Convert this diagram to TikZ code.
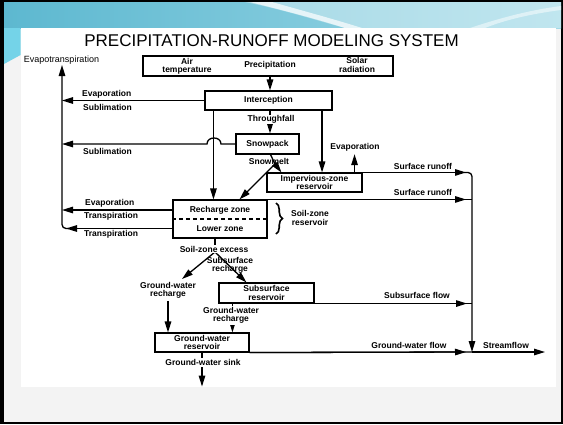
\documentclass[tikz,border=0pt]{standalone}
\usepackage{fontspec}
\setmainfont{Liberation Sans}
\usetikzlibrary{arrows.meta,decorations.pathreplacing,calc}
\newcommand\mylbl{\fontsize{8.5}{8.2}\selectfont\bfseries}
\definecolor{panelgray}{HTML}{F3F3F3}
\definecolor{bannerA}{HTML}{5DB8D0}
\definecolor{bannerB}{HTML}{9FD9E7}
\definecolor{leftcyan}{HTML}{74D3E8}
\begin{document}
\begin{tikzpicture}[x=1pt,y=-1pt,
  box/.style={draw, line width=1.1pt, inner sep=0pt, font=\mylbl, align=center},
  lab/.style={font=\mylbl, inner sep=0pt, align=center},
  ln/.style={line width=1.3pt},
  arr/.style={line width=1.3pt, -{Triangle[length=11pt,width=6.5pt]}},
]
\useasboundingbox (0,0) rectangle (563,424);
% slide background
\fill[black] (0,0) rectangle (563,424);
\fill[panelgray] (4,2) rectangle (561,421.5);
\shade[left color=bannerA, right color=bannerB] (4,2) rectangle (561,28);
\fill[white, opacity=0.35] (245,2) .. controls (285,10) and (315,20) .. (345,28) -- (561,28) -- (561,2) -- cycle;
\fill[white, opacity=0.7] (250,2) .. controls (290,12) and (320,20) .. (345,28) -- (362,28) .. controls (330,18) and (300,10) .. (272,2) -- cycle;
\fill[white, opacity=0.5] (470,28) .. controls (500,18) and (530,10) .. (561,6) -- (561,10) .. controls (530,14) and (505,20) .. (485,28) -- cycle;
\fill[leftcyan] (4,28) -- (20.5,28) -- (20.5,55) -- (4,64) -- cycle;
\fill[white] (20.5,28) rectangle (556,387);

% title
\node[font=\fontsize{17}{20}\selectfont, inner sep=0pt] (title) at (271.5,41) {PRECIPITATION-RUNOFF MODELING SYSTEM};

% boxes
\node[box, minimum width=250pt, minimum height=20pt] (top) at (268,66) {};
\node[lab] (air) at (187,66) {Air\\temperature};
\node[lab] (precip) at (270,65.5) {Precipitation};
\node[lab] (solar) at (357,65) {Solar\\radiation};

\node[box, minimum width=127pt, minimum height=19pt] (inter) at (268.5,100.5) {Interception};
\node[box, minimum width=63pt, minimum height=20pt] (snow) at (267.5,144) {Snowpack};
\node[box, minimum width=95pt, minimum height=19pt] (imp) at (314.5,182.5) {Impervious-zone\\reservoir};
\node[box, minimum width=94pt, minimum height=38pt] (soil) at (220,219) {};
\node[lab] (rech) at (220,210) {Recharge zone};
\node[lab] (lowz) at (220,228.5) {Lower zone};
\draw[line width=1.1pt, dash pattern=on 4pt off 3pt] (soil.west) -- (soil.east);
\node[box, minimum width=95pt, minimum height=20pt] (ss) at (266.5,293) {Subsurface\\reservoir};
\node[box, minimum width=94pt, minimum height=19pt] (gw) at (202,342.5) {Ground-water\\reservoir};

% helper coordinates
\coordinate (et) at (62,65);
\coordinate (stream) at (472,352);

% evapotranspiration
\node[font=\fontsize{9}{10}\selectfont, inner sep=0pt] (etl) at (61.5,60.5) {Evapotranspiration};
\draw[arr] (inter.west) -- (inter.west -| et);
\node[lab, anchor=west] at (82,94) {Evaporation};
\node[lab, anchor=west] at (83,107.5) {Sublimation};
\draw[arr] (snow.west) -- (221,144) .. controls (221,136) and (207,136) .. (207,144) -- (snow.west -| et);
\node[lab, anchor=west] at (83,151) {Sublimation};
\draw[arr] (soil.west |- rech) -- (rech -| et);
\node[lab, anchor=west] at (85,203) {Evaporation};
\node[lab, anchor=west] at (84,216) {Transpiration};
\draw[arr] (soil.west |- lowz) -- ($(lowz -| et)+(4,0)$);
\draw[ln, rounded corners=4pt, -{Triangle[length=11pt,width=6.5pt]}] ($(lowz -| et)+(7,0)$) -| (et);
\node[lab, anchor=west] at (84,234) {Transpiration};

% precipitation and interception
\draw[arr] (precip |- top.south) -- (precip |- inter.north);
\coordinate (ia) at ($(inter.south west)+(9,0)$);
\draw[arr] (ia) -- (ia |- soil.north);
\coordinate (tf) at ($(snow.north)+(2.5,0)$);
\draw[arr] (tf |- inter.south) -- (tf);
\node[lab, fill=white, inner sep=0.8pt] at (271,119.5) {Throughfall};
\coordinate (ib) at ($(inter.south east)+(-10.5,0)$);
\draw[arr] (ib) -- (ib |- imp.north);

% impervious
\node[lab] (evi) at (355,147) {Evaporation};
\coordinate (ev) at ($(imp.north east)+(-8,0)$);
\draw[arr] (ev) -- ($(ev |- evi.south)+(0,3)$);

% snowmelt
\coordinate (sm) at (275,164);
\draw[ln] ($(snow.south)+(3,0)$) -- (sm);
\draw[arr] (sm) -- ($(imp.north west)+(15,0)$);
\draw[arr] (sm) -- ($(soil.north west)+(67,0)$);
\node[lab] at (269,161.5) {Snowmelt};

% surface runoff
\draw[arr] (imp.north east) -- ($(imp.north east -| stream)+(-6,0)$);
\draw[ln, rounded corners=4pt, -{Triangle[length=11pt,width=6.5pt]}] ($(imp.north east -| stream)+(-8,0)$) -| (stream);
\node[lab] at (423,166) {Surface runoff};
\draw[ln] (soil.north east) -- (soil.north east -| stream);
\draw[arr] (soil.north east) -- ($(soil.north east -| stream)+(-6,0)$);
\node[lab] at (423,192) {Surface runoff};

% soil zone brace
\draw[line width=1.6pt, decorate, decoration={brace, amplitude=6.5pt}] (276,203) -- (276,234);
\node[lab] at (310,218) {Soil-zone\\reservoir};

% soil-zone excess
\coordinate (se) at (215,252);
\coordinate (gwa) at (182,279);
\draw[ln] ($(soil.south)+(-5,0)$) -- (se);
\draw[arr] (se) -- (gwa);
\draw[arr] (se) -- ($(ss.north west)+(28,0)$);
\node[lab, fill=white, inner sep=0.8pt] at (214,249) {Soil-zone excess};
\node[lab] at (230,265.5) {Subsurface\\recharge};

% ground-water recharge
\node[lab] (gwrl) at (168,290.5) {Ground-water\\recharge};
\draw[arr] ($(gwrl.south)+(0,2)$) -- (gwrl.south |- gw.north);
\coordinate (gm) at ($(ss.south west)+(14,0)$);
\draw[arr] (gm) -- (gm |- gw.north);
\node[lab, fill=white, inner sep=1pt] at (231,315.5) {Ground-water\\recharge};

% flows to stream
\draw[ln] (ss.south east) -- (ss.south east -| stream);
\draw[arr] (ss.south east) -- ($(ss.south east -| stream)+(-5,0)$);
\node[lab] at (417,295.5) {Subsurface flow};
\draw[ln] (gw.south east) -- (stream);
\draw[arr] (gw.south east) -- ($(stream)+(-6,0)$);
\node[lab] at (409,345) {Ground-water flow};
\draw[arr] (stream) -- ($(stream)+(73,0)$);
\node[lab] at (506,345) {Streamflow};

% ground-water sink
\draw[arr] (gw.south) -- ($(gw.south)+(0,34)$);
\node[lab, fill=white, inner sep=1pt] at (203,362.5) {Ground-water sink};
\end{tikzpicture}
\end{document}
